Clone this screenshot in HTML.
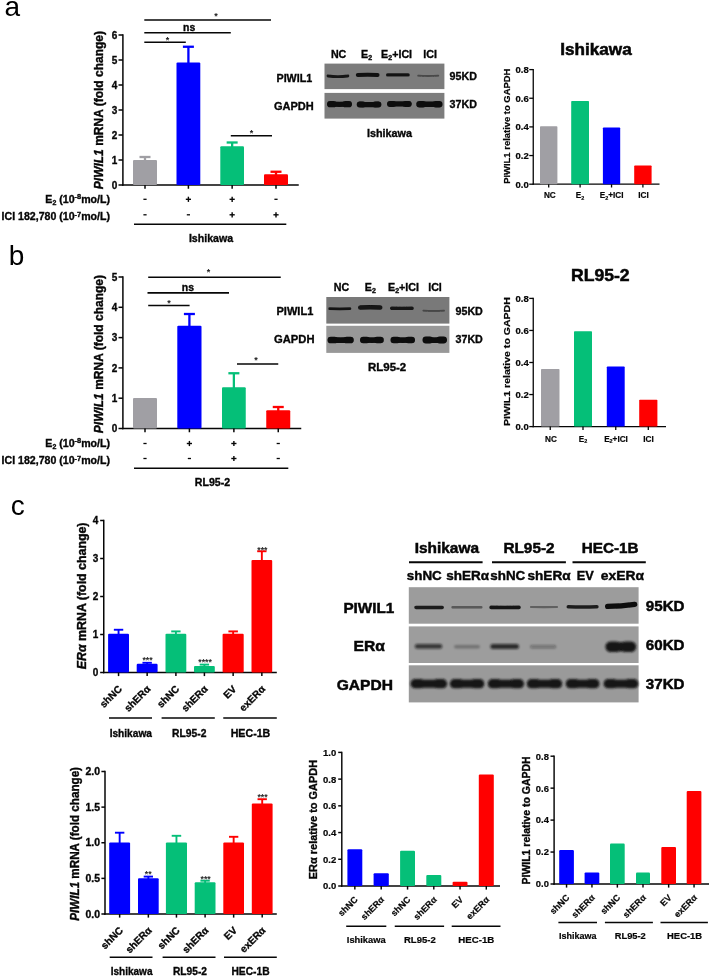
<!DOCTYPE html>
<html lang="en"><head><meta charset="utf-8"><title>Figure</title>
<style>
html,body{margin:0;padding:0;background:#fff;}
svg{display:block;font-family:"Liberation Sans", Arial, sans-serif;}
</style></head><body>
<svg width="709" height="976" viewBox="0 0 709 976">
<defs>
<filter id="b0" filterUnits="userSpaceOnUse" x="0" y="0" width="709" height="976"><feGaussianBlur stdDeviation="0.35"/></filter>
<filter id="b1" filterUnits="userSpaceOnUse" x="0" y="0" width="709" height="976"><feGaussianBlur stdDeviation="0.85"/></filter>
<filter id="b3" filterUnits="userSpaceOnUse" x="0" y="0" width="709" height="976"><feGaussianBlur stdDeviation="0.55"/></filter>
<filter id="b4" filterUnits="userSpaceOnUse" x="0" y="0" width="709" height="976"><feGaussianBlur stdDeviation="0.6"/></filter>
<filter id="b2" filterUnits="userSpaceOnUse" x="0" y="0" width="709" height="976"><feGaussianBlur stdDeviation="1.1"/></filter>
</defs>
<rect width="709" height="976" fill="#fff"/>
<text x="4.50" y="15.60" font-size="28" font-weight="normal" fill="#000">a</text>
<text x="8.85" y="265.40" font-size="28" font-weight="normal" fill="#000">b</text>
<text x="10.75" y="514.70" font-size="28" font-weight="normal" fill="#000">c</text>
<line x1="122.90" y1="34.25" x2="122.90" y2="185.75" stroke="#060606" stroke-width="1.5" stroke-linecap="butt"/>
<line x1="122.15" y1="185.00" x2="298.75" y2="185.00" stroke="#060606" stroke-width="1.5" stroke-linecap="butt"/>
<line x1="118.50" y1="185.00" x2="122.90" y2="185.00" stroke="#060606" stroke-width="1.5" stroke-linecap="butt"/>
<text x="117.30" y="188.60" font-size="10" font-weight="bold" fill="#060606" stroke="#060606" stroke-width="0.32" text-anchor="end">0</text>
<line x1="118.50" y1="160.00" x2="122.90" y2="160.00" stroke="#060606" stroke-width="1.5" stroke-linecap="butt"/>
<text x="117.30" y="163.60" font-size="10" font-weight="bold" fill="#060606" stroke="#060606" stroke-width="0.32" text-anchor="end">1</text>
<line x1="118.50" y1="135.00" x2="122.90" y2="135.00" stroke="#060606" stroke-width="1.5" stroke-linecap="butt"/>
<text x="117.30" y="138.60" font-size="10" font-weight="bold" fill="#060606" stroke="#060606" stroke-width="0.32" text-anchor="end">2</text>
<line x1="118.50" y1="110.00" x2="122.90" y2="110.00" stroke="#060606" stroke-width="1.5" stroke-linecap="butt"/>
<text x="117.30" y="113.60" font-size="10" font-weight="bold" fill="#060606" stroke="#060606" stroke-width="0.32" text-anchor="end">3</text>
<line x1="118.50" y1="85.00" x2="122.90" y2="85.00" stroke="#060606" stroke-width="1.5" stroke-linecap="butt"/>
<text x="117.30" y="88.60" font-size="10" font-weight="bold" fill="#060606" stroke="#060606" stroke-width="0.32" text-anchor="end">4</text>
<line x1="118.50" y1="60.00" x2="122.90" y2="60.00" stroke="#060606" stroke-width="1.5" stroke-linecap="butt"/>
<text x="117.30" y="63.60" font-size="10" font-weight="bold" fill="#060606" stroke="#060606" stroke-width="0.32" text-anchor="end">5</text>
<line x1="118.50" y1="35.00" x2="122.90" y2="35.00" stroke="#060606" stroke-width="1.5" stroke-linecap="butt"/>
<text x="117.30" y="38.60" font-size="10" font-weight="bold" fill="#060606" stroke="#060606" stroke-width="0.32" text-anchor="end">6</text>
<line x1="145.00" y1="157.00" x2="145.00" y2="161.00" stroke="#a09fa4" stroke-width="2.3" stroke-linecap="butt"/>
<line x1="139.50" y1="157.00" x2="150.50" y2="157.00" stroke="#a09fa4" stroke-width="2.3" stroke-linecap="butt"/>
<rect x="133.00" y="160.00" width="24.00" height="25.00" fill="#a09fa4" rx="1.1"/>
<line x1="145.00" y1="185.00" x2="145.00" y2="188.75" stroke="#060606" stroke-width="1.5" stroke-linecap="butt"/>
<line x1="188.40" y1="46.75" x2="188.40" y2="63.50" stroke="#0000ff" stroke-width="2.3" stroke-linecap="butt"/>
<line x1="182.90" y1="46.75" x2="193.90" y2="46.75" stroke="#0000ff" stroke-width="2.3" stroke-linecap="butt"/>
<rect x="176.50" y="62.50" width="23.80" height="122.50" fill="#0000ff" rx="1.1"/>
<line x1="188.40" y1="185.00" x2="188.40" y2="188.75" stroke="#060606" stroke-width="1.5" stroke-linecap="butt"/>
<line x1="232.15" y1="142.50" x2="232.15" y2="147.25" stroke="#05bf78" stroke-width="2.3" stroke-linecap="butt"/>
<line x1="226.65" y1="142.50" x2="237.65" y2="142.50" stroke="#05bf78" stroke-width="2.3" stroke-linecap="butt"/>
<rect x="220.30" y="146.25" width="23.70" height="38.75" fill="#05bf78" rx="1.1"/>
<line x1="232.15" y1="185.00" x2="232.15" y2="188.75" stroke="#060606" stroke-width="1.5" stroke-linecap="butt"/>
<line x1="276.00" y1="171.75" x2="276.00" y2="175.25" stroke="#ff0000" stroke-width="2.3" stroke-linecap="butt"/>
<line x1="270.50" y1="171.75" x2="281.50" y2="171.75" stroke="#ff0000" stroke-width="2.3" stroke-linecap="butt"/>
<rect x="264.00" y="174.25" width="24.00" height="10.75" fill="#ff0000" rx="1.1"/>
<line x1="276.00" y1="185.00" x2="276.00" y2="188.75" stroke="#060606" stroke-width="1.5" stroke-linecap="butt"/>
<line x1="144.30" y1="20.00" x2="271.00" y2="20.00" stroke="#060606" stroke-width="1.6" stroke-linecap="butt"/>
<text x="216.00" y="19.30" font-size="9" font-weight="700" fill="#1a1a1a" text-anchor="middle">*</text>
<line x1="144.30" y1="32.70" x2="230.80" y2="32.70" stroke="#060606" stroke-width="1.6" stroke-linecap="butt"/>
<text x="189.10" y="30.70" font-size="10.4" font-weight="bold" fill="#060606" stroke="#060606" stroke-width="0.33" text-anchor="middle" textLength="12.20" lengthAdjust="spacingAndGlyphs">ns</text>
<line x1="144.30" y1="42.30" x2="185.80" y2="42.30" stroke="#060606" stroke-width="1.6" stroke-linecap="butt"/>
<text x="167.60" y="43.00" font-size="9" font-weight="700" fill="#1a1a1a" text-anchor="middle">*</text>
<line x1="230.80" y1="135.75" x2="272.00" y2="135.75" stroke="#060606" stroke-width="1.6" stroke-linecap="butt"/>
<text x="251.50" y="136.00" font-size="9" font-weight="700" fill="#1a1a1a" text-anchor="middle">*</text>
<text x="103.30" y="189.20" font-size="12" font-weight="bold" fill="#060606" stroke="#060606" stroke-width="0.38" transform="rotate(-90 103.30 189.20)" textLength="158.20" lengthAdjust="spacingAndGlyphs"><tspan font-style="italic">PIWIL1</tspan> mRNA (fold change)</text>
<text x="110.00" y="202.50" font-size="10.6" font-weight="bold" fill="#060606" stroke="#060606" stroke-width="0.34" text-anchor="end">E<tspan font-size="66%" dy="2">2</tspan><tspan dy="-2"> (10</tspan><tspan font-size="70%" dy="-3.4">-8</tspan><tspan dy="3.4">mo/L)</tspan></text>
<text x="110.00" y="220.00" font-size="10.6" font-weight="bold" fill="#060606" stroke="#060606" stroke-width="0.34" text-anchor="end">ICI 182,780 (10<tspan font-size="70%" dy="-3.4">-7</tspan><tspan dy="3.4">mo/L)</tspan></text>
<line x1="143.40" y1="199.30" x2="146.60" y2="199.30" stroke="#060606" stroke-width="1.3" stroke-linecap="butt"/>
<line x1="185.80" y1="199.30" x2="191.00" y2="199.30" stroke="#060606" stroke-width="1.4" stroke-linecap="butt"/>
<line x1="188.40" y1="196.70" x2="188.40" y2="201.90" stroke="#060606" stroke-width="1.4" stroke-linecap="butt"/>
<line x1="229.55" y1="199.30" x2="234.75" y2="199.30" stroke="#060606" stroke-width="1.4" stroke-linecap="butt"/>
<line x1="232.15" y1="196.70" x2="232.15" y2="201.90" stroke="#060606" stroke-width="1.4" stroke-linecap="butt"/>
<line x1="274.40" y1="199.30" x2="277.60" y2="199.30" stroke="#060606" stroke-width="1.3" stroke-linecap="butt"/>
<line x1="143.40" y1="214.80" x2="146.60" y2="214.80" stroke="#060606" stroke-width="1.3" stroke-linecap="butt"/>
<line x1="186.80" y1="214.80" x2="190.00" y2="214.80" stroke="#060606" stroke-width="1.3" stroke-linecap="butt"/>
<line x1="229.55" y1="214.80" x2="234.75" y2="214.80" stroke="#060606" stroke-width="1.4" stroke-linecap="butt"/>
<line x1="232.15" y1="212.20" x2="232.15" y2="217.40" stroke="#060606" stroke-width="1.4" stroke-linecap="butt"/>
<line x1="273.40" y1="214.80" x2="278.60" y2="214.80" stroke="#060606" stroke-width="1.4" stroke-linecap="butt"/>
<line x1="276.00" y1="212.20" x2="276.00" y2="217.40" stroke="#060606" stroke-width="1.4" stroke-linecap="butt"/>
<line x1="134.00" y1="224.25" x2="286.30" y2="224.25" stroke="#060606" stroke-width="1.3" stroke-linecap="butt"/>
<text x="211.00" y="242.05" font-size="10.6" font-weight="bold" fill="#060606" stroke="#060606" stroke-width="0.34" text-anchor="middle">Ishikawa</text>
<line x1="122.90" y1="276.25" x2="122.90" y2="429.25" stroke="#060606" stroke-width="1.5" stroke-linecap="butt"/>
<line x1="122.15" y1="428.50" x2="301.25" y2="428.50" stroke="#060606" stroke-width="1.5" stroke-linecap="butt"/>
<line x1="118.50" y1="428.50" x2="122.90" y2="428.50" stroke="#060606" stroke-width="1.5" stroke-linecap="butt"/>
<text x="117.30" y="432.10" font-size="10" font-weight="bold" fill="#060606" stroke="#060606" stroke-width="0.32" text-anchor="end">0</text>
<line x1="118.50" y1="398.20" x2="122.90" y2="398.20" stroke="#060606" stroke-width="1.5" stroke-linecap="butt"/>
<text x="117.30" y="401.80" font-size="10" font-weight="bold" fill="#060606" stroke="#060606" stroke-width="0.32" text-anchor="end">1</text>
<line x1="118.50" y1="367.90" x2="122.90" y2="367.90" stroke="#060606" stroke-width="1.5" stroke-linecap="butt"/>
<text x="117.30" y="371.50" font-size="10" font-weight="bold" fill="#060606" stroke="#060606" stroke-width="0.32" text-anchor="end">2</text>
<line x1="118.50" y1="337.60" x2="122.90" y2="337.60" stroke="#060606" stroke-width="1.5" stroke-linecap="butt"/>
<text x="117.30" y="341.20" font-size="10" font-weight="bold" fill="#060606" stroke="#060606" stroke-width="0.32" text-anchor="end">3</text>
<line x1="118.50" y1="307.30" x2="122.90" y2="307.30" stroke="#060606" stroke-width="1.5" stroke-linecap="butt"/>
<text x="117.30" y="310.90" font-size="10" font-weight="bold" fill="#060606" stroke="#060606" stroke-width="0.32" text-anchor="end">4</text>
<line x1="118.50" y1="277.00" x2="122.90" y2="277.00" stroke="#060606" stroke-width="1.5" stroke-linecap="butt"/>
<text x="117.30" y="280.60" font-size="10" font-weight="bold" fill="#060606" stroke="#060606" stroke-width="0.32" text-anchor="end">5</text>
<rect x="133.00" y="397.90" width="24.00" height="30.60" fill="#a09fa4" rx="1.1"/>
<line x1="145.00" y1="428.50" x2="145.00" y2="432.25" stroke="#060606" stroke-width="1.5" stroke-linecap="butt"/>
<line x1="189.40" y1="314.00" x2="189.40" y2="326.75" stroke="#0000ff" stroke-width="2.3" stroke-linecap="butt"/>
<line x1="183.90" y1="314.00" x2="194.90" y2="314.00" stroke="#0000ff" stroke-width="2.3" stroke-linecap="butt"/>
<rect x="177.30" y="325.75" width="24.20" height="102.75" fill="#0000ff" rx="1.1"/>
<line x1="189.40" y1="428.50" x2="189.40" y2="432.25" stroke="#060606" stroke-width="1.5" stroke-linecap="butt"/>
<line x1="233.88" y1="373.25" x2="233.88" y2="388.25" stroke="#05bf78" stroke-width="2.3" stroke-linecap="butt"/>
<line x1="228.38" y1="373.25" x2="239.38" y2="373.25" stroke="#05bf78" stroke-width="2.3" stroke-linecap="butt"/>
<rect x="222.00" y="387.25" width="23.75" height="41.25" fill="#05bf78" rx="1.1"/>
<line x1="233.88" y1="428.50" x2="233.88" y2="432.25" stroke="#060606" stroke-width="1.5" stroke-linecap="butt"/>
<line x1="278.25" y1="407.00" x2="278.25" y2="411.25" stroke="#ff0000" stroke-width="2.3" stroke-linecap="butt"/>
<line x1="272.75" y1="407.00" x2="283.75" y2="407.00" stroke="#ff0000" stroke-width="2.3" stroke-linecap="butt"/>
<rect x="266.25" y="410.25" width="24.00" height="18.25" fill="#ff0000" rx="1.1"/>
<line x1="278.25" y1="428.50" x2="278.25" y2="432.25" stroke="#060606" stroke-width="1.5" stroke-linecap="butt"/>
<line x1="148.20" y1="277.25" x2="280.75" y2="277.25" stroke="#060606" stroke-width="1.6" stroke-linecap="butt"/>
<text x="208.40" y="274.60" font-size="9" font-weight="700" fill="#1a1a1a" text-anchor="middle">*</text>
<line x1="147.50" y1="292.90" x2="229.00" y2="292.90" stroke="#060606" stroke-width="1.6" stroke-linecap="butt"/>
<text x="187.90" y="291.00" font-size="10.4" font-weight="bold" fill="#060606" stroke="#060606" stroke-width="0.33" text-anchor="middle" textLength="12.20" lengthAdjust="spacingAndGlyphs">ns</text>
<line x1="148.20" y1="305.50" x2="189.60" y2="305.50" stroke="#060606" stroke-width="1.6" stroke-linecap="butt"/>
<text x="168.90" y="305.60" font-size="9" font-weight="700" fill="#1a1a1a" text-anchor="middle">*</text>
<line x1="237.00" y1="364.00" x2="278.25" y2="364.00" stroke="#060606" stroke-width="1.6" stroke-linecap="butt"/>
<text x="256.00" y="363.00" font-size="9" font-weight="700" fill="#1a1a1a" text-anchor="middle">*</text>
<text x="103.30" y="433.20" font-size="12" font-weight="bold" fill="#060606" stroke="#060606" stroke-width="0.38" transform="rotate(-90 103.30 433.20)" textLength="158.20" lengthAdjust="spacingAndGlyphs"><tspan font-style="italic">PIWIL1</tspan> mRNA (fold change)</text>
<text x="110.00" y="446.50" font-size="10.6" font-weight="bold" fill="#060606" stroke="#060606" stroke-width="0.34" text-anchor="end">E<tspan font-size="66%" dy="2">2</tspan><tspan dy="-2"> (10</tspan><tspan font-size="70%" dy="-3.4">-8</tspan><tspan dy="3.4">mo/L)</tspan></text>
<text x="110.00" y="464.00" font-size="10.6" font-weight="bold" fill="#060606" stroke="#060606" stroke-width="0.34" text-anchor="end">ICI 182,780 (10<tspan font-size="70%" dy="-3.4">-7</tspan><tspan dy="3.4">mo/L)</tspan></text>
<line x1="143.40" y1="443.50" x2="146.60" y2="443.50" stroke="#060606" stroke-width="1.3" stroke-linecap="butt"/>
<line x1="186.80" y1="443.50" x2="192.00" y2="443.50" stroke="#060606" stroke-width="1.4" stroke-linecap="butt"/>
<line x1="189.40" y1="440.90" x2="189.40" y2="446.10" stroke="#060606" stroke-width="1.4" stroke-linecap="butt"/>
<line x1="231.28" y1="443.50" x2="236.47" y2="443.50" stroke="#060606" stroke-width="1.4" stroke-linecap="butt"/>
<line x1="233.88" y1="440.90" x2="233.88" y2="446.10" stroke="#060606" stroke-width="1.4" stroke-linecap="butt"/>
<line x1="276.65" y1="443.50" x2="279.85" y2="443.50" stroke="#060606" stroke-width="1.3" stroke-linecap="butt"/>
<line x1="143.40" y1="458.50" x2="146.60" y2="458.50" stroke="#060606" stroke-width="1.3" stroke-linecap="butt"/>
<line x1="187.80" y1="458.50" x2="191.00" y2="458.50" stroke="#060606" stroke-width="1.3" stroke-linecap="butt"/>
<line x1="231.28" y1="458.50" x2="236.47" y2="458.50" stroke="#060606" stroke-width="1.4" stroke-linecap="butt"/>
<line x1="233.88" y1="455.90" x2="233.88" y2="461.10" stroke="#060606" stroke-width="1.4" stroke-linecap="butt"/>
<line x1="276.65" y1="458.50" x2="279.85" y2="458.50" stroke="#060606" stroke-width="1.3" stroke-linecap="butt"/>
<line x1="134.00" y1="468.25" x2="288.30" y2="468.25" stroke="#060606" stroke-width="1.3" stroke-linecap="butt"/>
<text x="212.50" y="486.05" font-size="10.6" font-weight="bold" fill="#060606" stroke="#060606" stroke-width="0.34" text-anchor="middle">RL95-2</text>
<rect x="324.50" y="63.60" width="119.90" height="25.50" fill="#7b7b7b" filter="url(#b0)"/>
<rect x="324.50" y="92.90" width="119.90" height="25.70" fill="#7d7d7d" filter="url(#b0)"/>
<g filter="url(#b3)"><path d="M328.00 76.00 Q337.95 77.20 347.90 76.00" stroke="#121212" stroke-width="2.80" stroke-linecap="round" fill="none" opacity="0.92"/><path d="M357.80 74.90 Q367.70 74.50 377.60 74.90" stroke="#121212" stroke-width="4.00" stroke-linecap="round" fill="none" opacity="0.97"/><path d="M387.60 74.90 Q397.90 74.70 408.20 74.90" stroke="#121212" stroke-width="3.20" stroke-linecap="round" fill="none" opacity="0.95"/><path d="M418.10 75.60 Q428.20 76.40 438.30 75.60" stroke="#121212" stroke-width="1.80" stroke-linecap="round" fill="none" opacity="0.5"/></g>
<g filter="url(#b4)"><path d="M330.10 104.20 Q339.50 104.40 348.90 104.20" stroke="#0b0b0b" stroke-width="5.33" stroke-linecap="round" fill="none" opacity="1"/><path d="M330.10 104.20 h3.41 M348.90 104.20 h-3.41" stroke="#0b0b0b" stroke-width="6.20" stroke-linecap="round" fill="none" opacity="1"/><path d="M359.70 104.40 Q369.05 104.80 378.40 104.40" stroke="#0b0b0b" stroke-width="5.16" stroke-linecap="round" fill="none" opacity="1"/><path d="M359.70 104.40 h3.30 M378.40 104.40 h-3.30" stroke="#0b0b0b" stroke-width="6.00" stroke-linecap="round" fill="none" opacity="1"/><path d="M390.00 103.90 Q399.35 103.70 408.70 103.90" stroke="#0b0b0b" stroke-width="5.16" stroke-linecap="round" fill="none" opacity="1"/><path d="M390.00 103.90 h3.30 M408.70 103.90 h-3.30" stroke="#0b0b0b" stroke-width="6.00" stroke-linecap="round" fill="none" opacity="1"/><path d="M419.50 104.20 Q429.40 104.40 439.30 104.20" stroke="#0b0b0b" stroke-width="5.50" stroke-linecap="round" fill="none" opacity="1"/><path d="M419.50 104.20 h3.52 M439.30 104.20 h-3.52" stroke="#0b0b0b" stroke-width="6.40" stroke-linecap="round" fill="none" opacity="1"/></g>
<text x="338.60" y="57.60" font-size="10.7" font-weight="bold" fill="#060606" stroke="#060606" stroke-width="0.34" text-anchor="middle">NC</text>
<text x="366.60" y="57.60" font-size="10.7" font-weight="bold" fill="#060606" stroke="#060606" stroke-width="0.34" text-anchor="middle">E<tspan font-size="66%" dy="2">2</tspan></text>
<text x="396.60" y="57.60" font-size="10.7" font-weight="bold" fill="#060606" stroke="#060606" stroke-width="0.34" text-anchor="middle">E<tspan font-size="66%" dy="2">2</tspan><tspan dy="-2">+ICI</tspan></text>
<text x="430.10" y="57.60" font-size="10.7" font-weight="bold" fill="#060606" stroke="#060606" stroke-width="0.34" text-anchor="middle">ICI</text>
<text x="312.20" y="82.00" font-size="10.7" font-weight="bold" fill="#060606" stroke="#060606" stroke-width="0.34" text-anchor="end" textLength="35.70" lengthAdjust="spacingAndGlyphs">PIWIL1</text>
<text x="313.80" y="109.50" font-size="10.7" font-weight="bold" fill="#060606" stroke="#060606" stroke-width="0.34" text-anchor="end" textLength="39.80" lengthAdjust="spacingAndGlyphs">GAPDH</text>
<text x="449.60" y="80.20" font-size="10.7" font-weight="bold" fill="#060606" stroke="#060606" stroke-width="0.34">95KD</text>
<text x="449.60" y="108.20" font-size="10.7" font-weight="bold" fill="#060606" stroke="#060606" stroke-width="0.34">37KD</text>
<text x="389.50" y="136.60" font-size="10.7" font-weight="bold" fill="#060606" stroke="#060606" stroke-width="0.34" text-anchor="middle" textLength="45.00" lengthAdjust="spacingAndGlyphs">Ishikawa</text>
<rect x="326.30" y="297.00" width="123.10" height="26.60" fill="#797979" filter="url(#b0)"/>
<rect x="326.30" y="325.80" width="123.10" height="27.10" fill="#989898" filter="url(#b0)"/>
<g filter="url(#b3)"><path d="M329.70 308.70 Q339.80 308.90 349.90 308.70" stroke="#121212" stroke-width="2.80" stroke-linecap="round" fill="none" opacity="0.95"/><path d="M360.30 307.50 Q370.25 306.90 380.20 307.50" stroke="#121212" stroke-width="4.60" stroke-linecap="round" fill="none" opacity="1"/><path d="M391.70 308.30 Q401.90 308.50 412.10 308.30" stroke="#121212" stroke-width="3.40" stroke-linecap="round" fill="none" opacity="1"/><path d="M423.40 310.60 Q433.75 311.20 444.10 310.60" stroke="#121212" stroke-width="1.80" stroke-linecap="round" fill="none" opacity="0.5"/></g>
<g filter="url(#b4)"><path d="M330.85 340.00 Q340.65 340.20 350.45 340.00" stroke="#0b0b0b" stroke-width="5.76" stroke-linecap="round" fill="none" opacity="1"/><path d="M330.85 340.00 h3.69 M350.45 340.00 h-3.69" stroke="#0b0b0b" stroke-width="6.70" stroke-linecap="round" fill="none" opacity="1"/><path d="M363.25 340.00 Q371.90 340.20 380.55 340.00" stroke="#0b0b0b" stroke-width="5.59" stroke-linecap="round" fill="none" opacity="1"/><path d="M363.25 340.00 h3.58 M380.55 340.00 h-3.58" stroke="#0b0b0b" stroke-width="6.50" stroke-linecap="round" fill="none" opacity="1"/><path d="M393.75 340.00 Q402.75 340.20 411.75 340.00" stroke="#0b0b0b" stroke-width="5.59" stroke-linecap="round" fill="none" opacity="1"/><path d="M393.75 340.00 h3.58 M411.75 340.00 h-3.58" stroke="#0b0b0b" stroke-width="6.50" stroke-linecap="round" fill="none" opacity="1"/><path d="M425.95 340.00 Q434.75 340.20 443.55 340.00" stroke="#0b0b0b" stroke-width="5.93" stroke-linecap="round" fill="none" opacity="1"/><path d="M425.95 340.00 h3.80 M443.55 340.00 h-3.80" stroke="#0b0b0b" stroke-width="6.90" stroke-linecap="round" fill="none" opacity="1"/></g>
<text x="341.50" y="291.30" font-size="10.7" font-weight="bold" fill="#060606" stroke="#060606" stroke-width="0.34" text-anchor="middle">NC</text>
<text x="370.40" y="291.30" font-size="10.7" font-weight="bold" fill="#060606" stroke="#060606" stroke-width="0.34" text-anchor="middle">E<tspan font-size="66%" dy="2">2</tspan></text>
<text x="403.50" y="291.30" font-size="10.7" font-weight="bold" fill="#060606" stroke="#060606" stroke-width="0.34" text-anchor="middle">E<tspan font-size="66%" dy="2">2</tspan><tspan dy="-2">+ICI</tspan></text>
<text x="435.00" y="291.30" font-size="10.7" font-weight="bold" fill="#060606" stroke="#060606" stroke-width="0.34" text-anchor="middle">ICI</text>
<text x="313.30" y="314.80" font-size="10.7" font-weight="bold" fill="#060606" stroke="#060606" stroke-width="0.34" text-anchor="end" textLength="36.80" lengthAdjust="spacingAndGlyphs">PIWIL1</text>
<text x="314.50" y="342.80" font-size="10.7" font-weight="bold" fill="#060606" stroke="#060606" stroke-width="0.34" text-anchor="end" textLength="40.50" lengthAdjust="spacingAndGlyphs">GAPDH</text>
<text x="455.50" y="314.50" font-size="10.7" font-weight="bold" fill="#060606" stroke="#060606" stroke-width="0.34">95KD</text>
<text x="455.50" y="342.50" font-size="10.7" font-weight="bold" fill="#060606" stroke="#060606" stroke-width="0.34">37KD</text>
<text x="387.10" y="371.20" font-size="10.7" font-weight="bold" fill="#060606" stroke="#060606" stroke-width="0.34" text-anchor="middle" textLength="38.20" lengthAdjust="spacingAndGlyphs">RL95-2</text>
<line x1="533.25" y1="69.00" x2="533.25" y2="184.80" stroke="#060606" stroke-width="1.3" stroke-linecap="butt"/>
<line x1="532.65" y1="184.20" x2="659.50" y2="184.20" stroke="#060606" stroke-width="1.3" stroke-linecap="butt"/>
<line x1="529.25" y1="184.20" x2="533.25" y2="184.20" stroke="#060606" stroke-width="1.3" stroke-linecap="butt"/>
<text x="528.80" y="187.50" font-size="9.5" font-weight="bold" fill="#060606" stroke="#060606" stroke-width="0.21" text-anchor="end">0.0</text>
<line x1="529.25" y1="155.55" x2="533.25" y2="155.55" stroke="#060606" stroke-width="1.3" stroke-linecap="butt"/>
<text x="528.80" y="158.85" font-size="9.5" font-weight="bold" fill="#060606" stroke="#060606" stroke-width="0.21" text-anchor="end">0.2</text>
<line x1="529.25" y1="126.90" x2="533.25" y2="126.90" stroke="#060606" stroke-width="1.3" stroke-linecap="butt"/>
<text x="528.80" y="130.20" font-size="9.5" font-weight="bold" fill="#060606" stroke="#060606" stroke-width="0.21" text-anchor="end">0.4</text>
<line x1="529.25" y1="98.25" x2="533.25" y2="98.25" stroke="#060606" stroke-width="1.3" stroke-linecap="butt"/>
<text x="528.80" y="101.55" font-size="9.5" font-weight="bold" fill="#060606" stroke="#060606" stroke-width="0.21" text-anchor="end">0.6</text>
<line x1="529.25" y1="69.60" x2="533.25" y2="69.60" stroke="#060606" stroke-width="1.3" stroke-linecap="butt"/>
<text x="528.80" y="72.90" font-size="9.5" font-weight="bold" fill="#060606" stroke="#060606" stroke-width="0.21" text-anchor="end">0.8</text>
<rect x="540.00" y="126.30" width="17.40" height="57.90" fill="#a09fa4" rx="0.8"/>
<line x1="548.70" y1="184.20" x2="548.70" y2="187.50" stroke="#060606" stroke-width="1.3" stroke-linecap="butt"/>
<rect x="571.20" y="101.00" width="17.80" height="83.20" fill="#05bf78" rx="0.8"/>
<line x1="580.10" y1="184.20" x2="580.10" y2="187.50" stroke="#060606" stroke-width="1.3" stroke-linecap="butt"/>
<rect x="602.90" y="127.40" width="17.30" height="56.80" fill="#0000ff" rx="0.8"/>
<line x1="611.55" y1="184.20" x2="611.55" y2="187.50" stroke="#060606" stroke-width="1.3" stroke-linecap="butt"/>
<rect x="634.20" y="165.40" width="17.40" height="18.80" fill="#ff0000" rx="0.8"/>
<line x1="642.90" y1="184.20" x2="642.90" y2="187.50" stroke="#060606" stroke-width="1.3" stroke-linecap="butt"/>
<text x="596.00" y="54.60" font-size="17" font-weight="bold" fill="#060606" stroke="#060606" stroke-width="0.54" text-anchor="middle" textLength="71.50" lengthAdjust="spacingAndGlyphs">Ishikawa</text>
<text x="549.80" y="198.30" font-size="8.2" font-weight="bold" fill="#060606" stroke="#060606" stroke-width="0.18" text-anchor="middle">NC</text>
<text x="580.00" y="198.30" font-size="8.2" font-weight="bold" fill="#060606" stroke="#060606" stroke-width="0.18" text-anchor="middle">E<tspan font-size="66%" dy="1.6">2</tspan></text>
<text x="611.60" y="198.30" font-size="8.2" font-weight="bold" fill="#060606" stroke="#060606" stroke-width="0.18" text-anchor="middle">E<tspan font-size="66%" dy="1.6">2</tspan><tspan dy="-1.6">+ICI</tspan></text>
<text x="643.50" y="198.30" font-size="8.2" font-weight="bold" fill="#060606" stroke="#060606" stroke-width="0.18" text-anchor="middle">ICI</text>
<text x="510.40" y="183.80" font-size="9.4" font-weight="bold" fill="#060606" stroke="#060606" stroke-width="0.21" transform="rotate(-90 510.40 183.80)" textLength="115.20" lengthAdjust="spacingAndGlyphs">PIWIL1 relative to GAPDH</text>
<line x1="533.25" y1="297.80" x2="533.25" y2="427.20" stroke="#060606" stroke-width="1.3" stroke-linecap="butt"/>
<line x1="532.65" y1="426.60" x2="666.00" y2="426.60" stroke="#060606" stroke-width="1.3" stroke-linecap="butt"/>
<line x1="529.25" y1="426.60" x2="533.25" y2="426.60" stroke="#060606" stroke-width="1.3" stroke-linecap="butt"/>
<text x="528.80" y="429.90" font-size="9.5" font-weight="bold" fill="#060606" stroke="#060606" stroke-width="0.21" text-anchor="end">0.0</text>
<line x1="529.25" y1="394.55" x2="533.25" y2="394.55" stroke="#060606" stroke-width="1.3" stroke-linecap="butt"/>
<text x="528.80" y="397.85" font-size="9.5" font-weight="bold" fill="#060606" stroke="#060606" stroke-width="0.21" text-anchor="end">0.2</text>
<line x1="529.25" y1="362.50" x2="533.25" y2="362.50" stroke="#060606" stroke-width="1.3" stroke-linecap="butt"/>
<text x="528.80" y="365.80" font-size="9.5" font-weight="bold" fill="#060606" stroke="#060606" stroke-width="0.21" text-anchor="end">0.4</text>
<line x1="529.25" y1="330.45" x2="533.25" y2="330.45" stroke="#060606" stroke-width="1.3" stroke-linecap="butt"/>
<text x="528.80" y="333.75" font-size="9.5" font-weight="bold" fill="#060606" stroke="#060606" stroke-width="0.21" text-anchor="end">0.6</text>
<line x1="529.25" y1="298.40" x2="533.25" y2="298.40" stroke="#060606" stroke-width="1.3" stroke-linecap="butt"/>
<text x="528.80" y="301.70" font-size="9.5" font-weight="bold" fill="#060606" stroke="#060606" stroke-width="0.21" text-anchor="end">0.8</text>
<rect x="541.00" y="368.90" width="18.50" height="57.70" fill="#a09fa4" rx="0.8"/>
<line x1="550.25" y1="426.60" x2="550.25" y2="429.90" stroke="#060606" stroke-width="1.3" stroke-linecap="butt"/>
<rect x="574.00" y="331.20" width="18.00" height="95.40" fill="#05bf78" rx="0.8"/>
<line x1="583.00" y1="426.60" x2="583.00" y2="429.90" stroke="#060606" stroke-width="1.3" stroke-linecap="butt"/>
<rect x="606.80" y="366.40" width="17.90" height="60.20" fill="#0000ff" rx="0.8"/>
<line x1="615.75" y1="426.60" x2="615.75" y2="429.90" stroke="#060606" stroke-width="1.3" stroke-linecap="butt"/>
<rect x="639.20" y="399.75" width="18.20" height="26.85" fill="#ff0000" rx="0.8"/>
<line x1="648.30" y1="426.60" x2="648.30" y2="429.90" stroke="#060606" stroke-width="1.3" stroke-linecap="butt"/>
<text x="600.30" y="281.30" font-size="17" font-weight="bold" fill="#060606" stroke="#060606" stroke-width="0.54" text-anchor="middle" textLength="58.60" lengthAdjust="spacingAndGlyphs">RL95-2</text>
<text x="551.00" y="441.80" font-size="8.2" font-weight="bold" fill="#060606" stroke="#060606" stroke-width="0.18" text-anchor="middle">NC</text>
<text x="583.00" y="441.80" font-size="8.2" font-weight="bold" fill="#060606" stroke="#060606" stroke-width="0.18" text-anchor="middle">E<tspan font-size="66%" dy="1.6">2</tspan></text>
<text x="616.00" y="441.80" font-size="8.2" font-weight="bold" fill="#060606" stroke="#060606" stroke-width="0.18" text-anchor="middle">E<tspan font-size="66%" dy="1.6">2</tspan><tspan dy="-1.6">+ICI</tspan></text>
<text x="648.50" y="441.80" font-size="8.2" font-weight="bold" fill="#060606" stroke="#060606" stroke-width="0.18" text-anchor="middle">ICI</text>
<text x="509.80" y="426.00" font-size="9.4" font-weight="bold" fill="#060606" stroke="#060606" stroke-width="0.21" transform="rotate(-90 509.80 426.00)" textLength="128.80" lengthAdjust="spacingAndGlyphs">PIWIL1 relative to GAPDH</text>
<line x1="103.75" y1="519.75" x2="103.75" y2="673.25" stroke="#060606" stroke-width="1.5" stroke-linecap="butt"/>
<line x1="103.00" y1="672.50" x2="276.80" y2="672.50" stroke="#060606" stroke-width="1.5" stroke-linecap="butt"/>
<line x1="100.15" y1="672.50" x2="103.75" y2="672.50" stroke="#060606" stroke-width="1.5" stroke-linecap="butt"/>
<text x="98.20" y="676.10" font-size="10" font-weight="bold" fill="#060606" stroke="#060606" stroke-width="0.32" text-anchor="end">0</text>
<line x1="100.15" y1="634.50" x2="103.75" y2="634.50" stroke="#060606" stroke-width="1.5" stroke-linecap="butt"/>
<text x="98.20" y="638.10" font-size="10" font-weight="bold" fill="#060606" stroke="#060606" stroke-width="0.32" text-anchor="end">1</text>
<line x1="100.15" y1="596.50" x2="103.75" y2="596.50" stroke="#060606" stroke-width="1.5" stroke-linecap="butt"/>
<text x="98.20" y="600.10" font-size="10" font-weight="bold" fill="#060606" stroke="#060606" stroke-width="0.32" text-anchor="end">2</text>
<line x1="100.15" y1="558.50" x2="103.75" y2="558.50" stroke="#060606" stroke-width="1.5" stroke-linecap="butt"/>
<text x="98.20" y="562.10" font-size="10" font-weight="bold" fill="#060606" stroke="#060606" stroke-width="0.32" text-anchor="end">3</text>
<line x1="100.15" y1="520.50" x2="103.75" y2="520.50" stroke="#060606" stroke-width="1.5" stroke-linecap="butt"/>
<text x="98.20" y="524.10" font-size="10" font-weight="bold" fill="#060606" stroke="#060606" stroke-width="0.32" text-anchor="end">4</text>
<line x1="118.55" y1="629.75" x2="118.55" y2="634.70" stroke="#0000ff" stroke-width="1.9" stroke-linecap="butt"/>
<line x1="113.85" y1="629.75" x2="123.25" y2="629.75" stroke="#0000ff" stroke-width="1.9" stroke-linecap="butt"/>
<rect x="108.10" y="633.70" width="20.90" height="38.80" fill="#0000ff" rx="1.1"/>
<line x1="118.55" y1="672.50" x2="118.55" y2="676.10" stroke="#060606" stroke-width="1.5" stroke-linecap="butt"/>
<text x="122.55" y="689.70" font-size="10.1" font-weight="bold" fill="#060606" stroke="#060606" stroke-width="0.32" text-anchor="end" transform="rotate(-45 122.55 689.70)">shNC</text>
<line x1="147.15" y1="662.80" x2="147.15" y2="664.80" stroke="#0000ff" stroke-width="1.9" stroke-linecap="butt"/>
<line x1="142.45" y1="662.80" x2="151.85" y2="662.80" stroke="#0000ff" stroke-width="1.9" stroke-linecap="butt"/>
<rect x="136.70" y="663.80" width="20.90" height="8.70" fill="#0000ff" rx="1.1"/>
<line x1="147.15" y1="672.50" x2="147.15" y2="676.10" stroke="#060606" stroke-width="1.5" stroke-linecap="butt"/>
<text x="151.15" y="689.70" font-size="10.1" font-weight="bold" fill="#060606" stroke="#060606" stroke-width="0.32" text-anchor="end" transform="rotate(-45 151.15 689.70)">shERα</text>
<line x1="175.90" y1="631.40" x2="175.90" y2="634.70" stroke="#05bf78" stroke-width="1.9" stroke-linecap="butt"/>
<line x1="171.22" y1="631.40" x2="180.58" y2="631.40" stroke="#05bf78" stroke-width="1.9" stroke-linecap="butt"/>
<rect x="165.50" y="633.70" width="20.80" height="38.80" fill="#05bf78" rx="1.1"/>
<line x1="175.90" y1="672.50" x2="175.90" y2="676.10" stroke="#060606" stroke-width="1.5" stroke-linecap="butt"/>
<text x="179.90" y="689.70" font-size="10.1" font-weight="bold" fill="#060606" stroke="#060606" stroke-width="0.32" text-anchor="end" transform="rotate(-45 179.90 689.70)">shNC</text>
<line x1="204.40" y1="664.60" x2="204.40" y2="667.00" stroke="#05bf78" stroke-width="1.9" stroke-linecap="butt"/>
<line x1="199.72" y1="664.60" x2="209.08" y2="664.60" stroke="#05bf78" stroke-width="1.9" stroke-linecap="butt"/>
<rect x="194.00" y="666.00" width="20.80" height="6.50" fill="#05bf78" rx="1.1"/>
<line x1="204.40" y1="672.50" x2="204.40" y2="676.10" stroke="#060606" stroke-width="1.5" stroke-linecap="butt"/>
<text x="208.40" y="689.70" font-size="10.1" font-weight="bold" fill="#060606" stroke="#060606" stroke-width="0.32" text-anchor="end" transform="rotate(-45 208.40 689.70)">shERα</text>
<line x1="233.15" y1="631.40" x2="233.15" y2="634.70" stroke="#ff0000" stroke-width="1.9" stroke-linecap="butt"/>
<line x1="228.40" y1="631.40" x2="237.90" y2="631.40" stroke="#ff0000" stroke-width="1.9" stroke-linecap="butt"/>
<rect x="222.60" y="633.70" width="21.10" height="38.80" fill="#ff0000" rx="1.1"/>
<line x1="233.15" y1="672.50" x2="233.15" y2="676.10" stroke="#060606" stroke-width="1.5" stroke-linecap="butt"/>
<text x="237.15" y="689.70" font-size="10.1" font-weight="bold" fill="#060606" stroke="#060606" stroke-width="0.32" text-anchor="end" transform="rotate(-45 237.15 689.70)">EV</text>
<line x1="261.85" y1="551.25" x2="261.85" y2="561.00" stroke="#ff0000" stroke-width="1.9" stroke-linecap="butt"/>
<line x1="257.19" y1="551.25" x2="266.51" y2="551.25" stroke="#ff0000" stroke-width="1.9" stroke-linecap="butt"/>
<rect x="251.50" y="560.00" width="20.70" height="112.50" fill="#ff0000" rx="1.1"/>
<line x1="261.85" y1="672.50" x2="261.85" y2="676.10" stroke="#060606" stroke-width="1.5" stroke-linecap="butt"/>
<text x="265.85" y="689.70" font-size="10.1" font-weight="bold" fill="#060606" stroke="#060606" stroke-width="0.32" text-anchor="end" transform="rotate(-45 265.85 689.70)">exERα</text>
<line x1="109.00" y1="718.00" x2="152.00" y2="718.00" stroke="#060606" stroke-width="1.5" stroke-linecap="butt"/>
<text x="130.80" y="736.80" font-size="10.1" font-weight="bold" fill="#060606" stroke="#060606" stroke-width="0.32" text-anchor="middle" textLength="42.30" lengthAdjust="spacingAndGlyphs">Ishikawa</text>
<line x1="161.60" y1="718.00" x2="214.80" y2="718.00" stroke="#060606" stroke-width="1.5" stroke-linecap="butt"/>
<text x="189.20" y="736.80" font-size="10.1" font-weight="bold" fill="#060606" stroke="#060606" stroke-width="0.32" text-anchor="middle" textLength="34.40" lengthAdjust="spacingAndGlyphs">RL95-2</text>
<line x1="223.25" y1="718.00" x2="276.80" y2="718.00" stroke="#060606" stroke-width="1.5" stroke-linecap="butt"/>
<text x="250.50" y="736.80" font-size="10.1" font-weight="bold" fill="#060606" stroke="#060606" stroke-width="0.32" text-anchor="middle" textLength="39.60" lengthAdjust="spacingAndGlyphs">HEC-1B</text>
<text x="86.40" y="669.25" font-size="12" font-weight="bold" fill="#060606" stroke="#060606" stroke-width="0.38" transform="rotate(-90 86.40 669.25)" textLength="146.75" lengthAdjust="spacingAndGlyphs"><tspan font-style="italic">ERα</tspan> mRNA (fold change)</text>
<text x="147.50" y="663.40" font-size="8.7" font-weight="700" fill="#2a2a2a" text-anchor="middle">***</text>
<text x="205.10" y="664.60" font-size="8.7" font-weight="700" fill="#2a2a2a" text-anchor="middle">****</text>
<text x="262.40" y="553.10" font-size="8.7" font-weight="700" fill="#2a2a2a" text-anchor="middle">***</text>
<line x1="105.00" y1="770.75" x2="105.00" y2="914.75" stroke="#060606" stroke-width="1.5" stroke-linecap="butt"/>
<line x1="104.25" y1="914.00" x2="276.80" y2="914.00" stroke="#060606" stroke-width="1.5" stroke-linecap="butt"/>
<line x1="101.40" y1="914.00" x2="105.00" y2="914.00" stroke="#060606" stroke-width="1.5" stroke-linecap="butt"/>
<text x="100.00" y="917.60" font-size="10" font-weight="bold" fill="#060606" stroke="#060606" stroke-width="0.32" text-anchor="end" textLength="14.50" lengthAdjust="spacingAndGlyphs">0.0</text>
<line x1="101.40" y1="878.38" x2="105.00" y2="878.38" stroke="#060606" stroke-width="1.5" stroke-linecap="butt"/>
<text x="100.00" y="881.98" font-size="10" font-weight="bold" fill="#060606" stroke="#060606" stroke-width="0.32" text-anchor="end" textLength="14.50" lengthAdjust="spacingAndGlyphs">0.5</text>
<line x1="101.40" y1="842.75" x2="105.00" y2="842.75" stroke="#060606" stroke-width="1.5" stroke-linecap="butt"/>
<text x="100.00" y="846.35" font-size="10" font-weight="bold" fill="#060606" stroke="#060606" stroke-width="0.32" text-anchor="end" textLength="14.50" lengthAdjust="spacingAndGlyphs">1.0</text>
<line x1="101.40" y1="807.12" x2="105.00" y2="807.12" stroke="#060606" stroke-width="1.5" stroke-linecap="butt"/>
<text x="100.00" y="810.73" font-size="10" font-weight="bold" fill="#060606" stroke="#060606" stroke-width="0.32" text-anchor="end" textLength="14.50" lengthAdjust="spacingAndGlyphs">1.5</text>
<line x1="101.40" y1="771.50" x2="105.00" y2="771.50" stroke="#060606" stroke-width="1.5" stroke-linecap="butt"/>
<text x="100.00" y="775.10" font-size="10" font-weight="bold" fill="#060606" stroke="#060606" stroke-width="0.32" text-anchor="end" textLength="14.50" lengthAdjust="spacingAndGlyphs">2.0</text>
<line x1="119.65" y1="832.70" x2="119.65" y2="843.40" stroke="#0000ff" stroke-width="1.9" stroke-linecap="butt"/>
<line x1="114.95" y1="832.70" x2="124.35" y2="832.70" stroke="#0000ff" stroke-width="1.9" stroke-linecap="butt"/>
<rect x="109.20" y="842.40" width="20.90" height="71.60" fill="#0000ff" rx="1.1"/>
<line x1="119.65" y1="914.00" x2="119.65" y2="917.60" stroke="#060606" stroke-width="1.5" stroke-linecap="butt"/>
<text x="123.65" y="931.00" font-size="10.1" font-weight="bold" fill="#060606" stroke="#060606" stroke-width="0.32" text-anchor="end" transform="rotate(-45 123.65 931.00)">shNC</text>
<line x1="148.35" y1="876.60" x2="148.35" y2="879.20" stroke="#0000ff" stroke-width="1.9" stroke-linecap="butt"/>
<line x1="143.69" y1="876.60" x2="153.01" y2="876.60" stroke="#0000ff" stroke-width="1.9" stroke-linecap="butt"/>
<rect x="138.00" y="878.20" width="20.70" height="35.80" fill="#0000ff" rx="1.1"/>
<line x1="148.35" y1="914.00" x2="148.35" y2="917.60" stroke="#060606" stroke-width="1.5" stroke-linecap="butt"/>
<text x="152.35" y="931.00" font-size="10.1" font-weight="bold" fill="#060606" stroke="#060606" stroke-width="0.32" text-anchor="end" transform="rotate(-45 152.35 931.00)">shERα</text>
<line x1="176.45" y1="835.80" x2="176.45" y2="843.40" stroke="#05bf78" stroke-width="1.9" stroke-linecap="butt"/>
<line x1="171.70" y1="835.80" x2="181.20" y2="835.80" stroke="#05bf78" stroke-width="1.9" stroke-linecap="butt"/>
<rect x="165.90" y="842.40" width="21.10" height="71.60" fill="#05bf78" rx="1.1"/>
<line x1="176.45" y1="914.00" x2="176.45" y2="917.60" stroke="#060606" stroke-width="1.5" stroke-linecap="butt"/>
<text x="180.45" y="931.00" font-size="10.1" font-weight="bold" fill="#060606" stroke="#060606" stroke-width="0.32" text-anchor="end" transform="rotate(-45 180.45 931.00)">shNC</text>
<line x1="205.10" y1="880.70" x2="205.10" y2="883.20" stroke="#05bf78" stroke-width="1.9" stroke-linecap="butt"/>
<line x1="200.42" y1="880.70" x2="209.78" y2="880.70" stroke="#05bf78" stroke-width="1.9" stroke-linecap="butt"/>
<rect x="194.70" y="882.20" width="20.80" height="31.80" fill="#05bf78" rx="1.1"/>
<line x1="205.10" y1="914.00" x2="205.10" y2="917.60" stroke="#060606" stroke-width="1.5" stroke-linecap="butt"/>
<text x="209.10" y="931.00" font-size="10.1" font-weight="bold" fill="#060606" stroke="#060606" stroke-width="0.32" text-anchor="end" transform="rotate(-45 209.10 931.00)">shERα</text>
<line x1="233.65" y1="836.80" x2="233.65" y2="843.40" stroke="#ff0000" stroke-width="1.9" stroke-linecap="butt"/>
<line x1="228.99" y1="836.80" x2="238.31" y2="836.80" stroke="#ff0000" stroke-width="1.9" stroke-linecap="butt"/>
<rect x="223.30" y="842.40" width="20.70" height="71.60" fill="#ff0000" rx="1.1"/>
<line x1="233.65" y1="914.00" x2="233.65" y2="917.60" stroke="#060606" stroke-width="1.5" stroke-linecap="butt"/>
<text x="237.65" y="931.00" font-size="10.1" font-weight="bold" fill="#060606" stroke="#060606" stroke-width="0.32" text-anchor="end" transform="rotate(-45 237.65 931.00)">EV</text>
<line x1="262.20" y1="799.20" x2="262.20" y2="804.50" stroke="#ff0000" stroke-width="1.9" stroke-linecap="butt"/>
<line x1="257.52" y1="799.20" x2="266.88" y2="799.20" stroke="#ff0000" stroke-width="1.9" stroke-linecap="butt"/>
<rect x="251.80" y="803.50" width="20.80" height="110.50" fill="#ff0000" rx="1.1"/>
<line x1="262.20" y1="914.00" x2="262.20" y2="917.60" stroke="#060606" stroke-width="1.5" stroke-linecap="butt"/>
<text x="266.20" y="931.00" font-size="10.1" font-weight="bold" fill="#060606" stroke="#060606" stroke-width="0.32" text-anchor="end" transform="rotate(-45 266.20 931.00)">exERα</text>
<line x1="109.70" y1="957.30" x2="152.50" y2="957.30" stroke="#060606" stroke-width="1.5" stroke-linecap="butt"/>
<text x="131.60" y="974.60" font-size="10.1" font-weight="bold" fill="#060606" stroke="#060606" stroke-width="0.32" text-anchor="middle" textLength="41.80" lengthAdjust="spacingAndGlyphs">Ishikawa</text>
<line x1="162.60" y1="957.30" x2="215.50" y2="957.30" stroke="#060606" stroke-width="1.5" stroke-linecap="butt"/>
<text x="190.00" y="974.60" font-size="10.1" font-weight="bold" fill="#060606" stroke="#060606" stroke-width="0.32" text-anchor="middle" textLength="34.00" lengthAdjust="spacingAndGlyphs">RL95-2</text>
<line x1="224.00" y1="957.30" x2="276.80" y2="957.30" stroke="#060606" stroke-width="1.5" stroke-linecap="butt"/>
<text x="250.50" y="974.60" font-size="10.1" font-weight="bold" fill="#060606" stroke="#060606" stroke-width="0.32" text-anchor="middle" textLength="38.20" lengthAdjust="spacingAndGlyphs">HEC-1B</text>
<text x="79.00" y="920.75" font-size="12" font-weight="bold" fill="#060606" stroke="#060606" stroke-width="0.38" transform="rotate(-90 79.00 920.75)" textLength="153.75" lengthAdjust="spacingAndGlyphs"><tspan font-style="italic">PIWIL1</tspan> mRNA (fold change)</text>
<text x="148.20" y="877.00" font-size="8.7" font-weight="700" fill="#2a2a2a" text-anchor="middle">**</text>
<text x="205.70" y="881.70" font-size="8.7" font-weight="700" fill="#2a2a2a" text-anchor="middle">***</text>
<text x="262.50" y="800.30" font-size="8.7" font-weight="700" fill="#2a2a2a" text-anchor="middle">***</text>
<line x1="341.80" y1="751.67" x2="341.80" y2="886.73" stroke="#060606" stroke-width="1.45" stroke-linecap="butt"/>
<line x1="341.07" y1="886.00" x2="500.00" y2="886.00" stroke="#060606" stroke-width="1.45" stroke-linecap="butt"/>
<line x1="338.20" y1="886.00" x2="341.80" y2="886.00" stroke="#060606" stroke-width="1.45" stroke-linecap="butt"/>
<text x="336.30" y="889.42" font-size="9.5" font-weight="bold" fill="#060606" stroke="#060606" stroke-width="0.21" text-anchor="end">0.0</text>
<line x1="338.20" y1="859.28" x2="341.80" y2="859.28" stroke="#060606" stroke-width="1.45" stroke-linecap="butt"/>
<text x="336.30" y="862.70" font-size="9.5" font-weight="bold" fill="#060606" stroke="#060606" stroke-width="0.21" text-anchor="end">0.2</text>
<line x1="338.20" y1="832.56" x2="341.80" y2="832.56" stroke="#060606" stroke-width="1.45" stroke-linecap="butt"/>
<text x="336.30" y="835.98" font-size="9.5" font-weight="bold" fill="#060606" stroke="#060606" stroke-width="0.21" text-anchor="end">0.4</text>
<line x1="338.20" y1="805.84" x2="341.80" y2="805.84" stroke="#060606" stroke-width="1.45" stroke-linecap="butt"/>
<text x="336.30" y="809.26" font-size="9.5" font-weight="bold" fill="#060606" stroke="#060606" stroke-width="0.21" text-anchor="end">0.6</text>
<line x1="338.20" y1="779.12" x2="341.80" y2="779.12" stroke="#060606" stroke-width="1.45" stroke-linecap="butt"/>
<text x="336.30" y="782.54" font-size="9.5" font-weight="bold" fill="#060606" stroke="#060606" stroke-width="0.21" text-anchor="end">0.8</text>
<line x1="338.20" y1="752.40" x2="341.80" y2="752.40" stroke="#060606" stroke-width="1.45" stroke-linecap="butt"/>
<text x="336.30" y="755.82" font-size="9.5" font-weight="bold" fill="#060606" stroke="#060606" stroke-width="0.21" text-anchor="end">1.0</text>
<rect x="347.40" y="849.20" width="14.90" height="36.80" fill="#0000ff" rx="1.1"/>
<line x1="354.85" y1="886.00" x2="354.85" y2="889.60" stroke="#060606" stroke-width="1.45" stroke-linecap="butt"/>
<text x="358.45" y="900.20" font-size="9.0" font-weight="bold" fill="#060606" stroke="#060606" stroke-width="0.20" text-anchor="end" transform="rotate(-45 358.45 900.20)">shNC</text>
<rect x="373.60" y="873.20" width="15.20" height="12.80" fill="#0000ff" rx="1.1"/>
<line x1="381.20" y1="886.00" x2="381.20" y2="889.60" stroke="#060606" stroke-width="1.45" stroke-linecap="butt"/>
<text x="384.80" y="900.20" font-size="9.0" font-weight="bold" fill="#060606" stroke="#060606" stroke-width="0.20" text-anchor="end" transform="rotate(-45 384.80 900.20)">shERα</text>
<rect x="400.10" y="850.70" width="14.90" height="35.30" fill="#05bf78" rx="1.1"/>
<line x1="407.55" y1="886.00" x2="407.55" y2="889.60" stroke="#060606" stroke-width="1.45" stroke-linecap="butt"/>
<text x="411.15" y="900.20" font-size="9.0" font-weight="bold" fill="#060606" stroke="#060606" stroke-width="0.20" text-anchor="end" transform="rotate(-45 411.15 900.20)">shNC</text>
<rect x="426.30" y="874.90" width="15.00" height="11.10" fill="#05bf78" rx="1.1"/>
<line x1="433.80" y1="886.00" x2="433.80" y2="889.60" stroke="#060606" stroke-width="1.45" stroke-linecap="butt"/>
<text x="437.40" y="900.20" font-size="9.0" font-weight="bold" fill="#060606" stroke="#060606" stroke-width="0.20" text-anchor="end" transform="rotate(-45 437.40 900.20)">shERα</text>
<rect x="452.60" y="881.70" width="14.90" height="4.30" fill="#ff0000" rx="1.1"/>
<line x1="460.05" y1="886.00" x2="460.05" y2="889.60" stroke="#060606" stroke-width="1.45" stroke-linecap="butt"/>
<text x="463.65" y="900.20" font-size="9.0" font-weight="bold" fill="#060606" stroke="#060606" stroke-width="0.20" text-anchor="end" transform="rotate(-45 463.65 900.20)">EV</text>
<rect x="478.80" y="774.50" width="15.00" height="111.50" fill="#ff0000" rx="1.1"/>
<line x1="486.30" y1="886.00" x2="486.30" y2="889.60" stroke="#060606" stroke-width="1.45" stroke-linecap="butt"/>
<text x="489.90" y="900.20" font-size="9.0" font-weight="bold" fill="#060606" stroke="#060606" stroke-width="0.20" text-anchor="end" transform="rotate(-45 489.90 900.20)">exERα</text>
<line x1="346.20" y1="926.30" x2="386.30" y2="926.30" stroke="#060606" stroke-width="1.5" stroke-linecap="butt"/>
<text x="366.25" y="943.00" font-size="9.3" font-weight="bold" fill="#060606" stroke="#060606" stroke-width="0.20" text-anchor="middle" textLength="38.90" lengthAdjust="spacingAndGlyphs">Ishikawa</text>
<line x1="394.75" y1="926.30" x2="444.10" y2="926.30" stroke="#060606" stroke-width="1.5" stroke-linecap="butt"/>
<text x="419.85" y="943.00" font-size="9.3" font-weight="bold" fill="#060606" stroke="#060606" stroke-width="0.20" text-anchor="middle" textLength="31.70" lengthAdjust="spacingAndGlyphs">RL95-2</text>
<line x1="451.70" y1="926.30" x2="500.50" y2="926.30" stroke="#060606" stroke-width="1.5" stroke-linecap="butt"/>
<text x="476.25" y="943.00" font-size="9.3" font-weight="bold" fill="#060606" stroke="#060606" stroke-width="0.20" text-anchor="middle" textLength="36.10" lengthAdjust="spacingAndGlyphs">HEC-1B</text>
<text x="316.60" y="879.20" font-size="11" font-weight="bold" fill="#060606" stroke="#060606" stroke-width="0.35" transform="rotate(-90 316.60 879.20)" textLength="119.30" lengthAdjust="spacingAndGlyphs">ERα relative to GAPDH</text>
<line x1="554.10" y1="755.48" x2="554.10" y2="884.73" stroke="#060606" stroke-width="1.45" stroke-linecap="butt"/>
<line x1="553.38" y1="884.00" x2="709.00" y2="884.00" stroke="#060606" stroke-width="1.45" stroke-linecap="butt"/>
<line x1="550.50" y1="884.00" x2="554.10" y2="884.00" stroke="#060606" stroke-width="1.45" stroke-linecap="butt"/>
<text x="548.90" y="887.38" font-size="9.4" font-weight="bold" fill="#060606" stroke="#060606" stroke-width="0.21" text-anchor="end">0.0</text>
<line x1="550.50" y1="852.05" x2="554.10" y2="852.05" stroke="#060606" stroke-width="1.45" stroke-linecap="butt"/>
<text x="548.90" y="855.43" font-size="9.4" font-weight="bold" fill="#060606" stroke="#060606" stroke-width="0.21" text-anchor="end">0.2</text>
<line x1="550.50" y1="820.10" x2="554.10" y2="820.10" stroke="#060606" stroke-width="1.45" stroke-linecap="butt"/>
<text x="548.90" y="823.48" font-size="9.4" font-weight="bold" fill="#060606" stroke="#060606" stroke-width="0.21" text-anchor="end">0.4</text>
<line x1="550.50" y1="788.15" x2="554.10" y2="788.15" stroke="#060606" stroke-width="1.45" stroke-linecap="butt"/>
<text x="548.90" y="791.53" font-size="9.4" font-weight="bold" fill="#060606" stroke="#060606" stroke-width="0.21" text-anchor="end">0.6</text>
<line x1="550.50" y1="756.20" x2="554.10" y2="756.20" stroke="#060606" stroke-width="1.45" stroke-linecap="butt"/>
<text x="548.90" y="759.58" font-size="9.4" font-weight="bold" fill="#060606" stroke="#060606" stroke-width="0.21" text-anchor="end">0.8</text>
<rect x="559.20" y="850.10" width="14.70" height="33.90" fill="#0000ff" rx="1.1"/>
<line x1="566.55" y1="884.00" x2="566.55" y2="887.60" stroke="#060606" stroke-width="1.45" stroke-linecap="butt"/>
<text x="570.15" y="898.20" font-size="9.0" font-weight="bold" fill="#060606" stroke="#060606" stroke-width="0.20" text-anchor="end" transform="rotate(-45 570.15 898.20)">shNC</text>
<rect x="584.60" y="872.40" width="14.70" height="11.60" fill="#0000ff" rx="1.1"/>
<line x1="591.95" y1="884.00" x2="591.95" y2="887.60" stroke="#060606" stroke-width="1.45" stroke-linecap="butt"/>
<text x="595.55" y="898.20" font-size="9.0" font-weight="bold" fill="#060606" stroke="#060606" stroke-width="0.20" text-anchor="end" transform="rotate(-45 595.55 898.20)">shERα</text>
<rect x="610.00" y="843.60" width="14.70" height="40.40" fill="#05bf78" rx="1.1"/>
<line x1="617.35" y1="884.00" x2="617.35" y2="887.60" stroke="#060606" stroke-width="1.45" stroke-linecap="butt"/>
<text x="620.95" y="898.20" font-size="9.0" font-weight="bold" fill="#060606" stroke="#060606" stroke-width="0.20" text-anchor="end" transform="rotate(-45 620.95 898.20)">shNC</text>
<rect x="636.00" y="872.40" width="14.00" height="11.60" fill="#05bf78" rx="1.1"/>
<line x1="643.00" y1="884.00" x2="643.00" y2="887.60" stroke="#060606" stroke-width="1.45" stroke-linecap="butt"/>
<text x="646.60" y="898.20" font-size="9.0" font-weight="bold" fill="#060606" stroke="#060606" stroke-width="0.20" text-anchor="end" transform="rotate(-45 646.60 898.20)">shERα</text>
<rect x="661.30" y="847.00" width="14.70" height="37.00" fill="#ff0000" rx="1.1"/>
<line x1="668.65" y1="884.00" x2="668.65" y2="887.60" stroke="#060606" stroke-width="1.45" stroke-linecap="butt"/>
<text x="672.25" y="898.20" font-size="9.0" font-weight="bold" fill="#060606" stroke="#060606" stroke-width="0.20" text-anchor="end" transform="rotate(-45 672.25 898.20)">EV</text>
<rect x="686.70" y="790.90" width="14.70" height="93.10" fill="#ff0000" rx="1.1"/>
<line x1="694.05" y1="884.00" x2="694.05" y2="887.60" stroke="#060606" stroke-width="1.45" stroke-linecap="butt"/>
<text x="697.65" y="898.20" font-size="9.0" font-weight="bold" fill="#060606" stroke="#060606" stroke-width="0.20" text-anchor="end" transform="rotate(-45 697.65 898.20)">exERα</text>
<line x1="558.40" y1="922.60" x2="597.00" y2="922.60" stroke="#060606" stroke-width="1.5" stroke-linecap="butt"/>
<text x="577.65" y="938.70" font-size="9.0" font-weight="bold" fill="#060606" stroke="#060606" stroke-width="0.20" text-anchor="middle" textLength="37.50" lengthAdjust="spacingAndGlyphs">Ishikawa</text>
<line x1="604.90" y1="922.60" x2="652.90" y2="922.60" stroke="#060606" stroke-width="1.5" stroke-linecap="butt"/>
<text x="630.30" y="938.70" font-size="9.0" font-weight="bold" fill="#060606" stroke="#060606" stroke-width="0.20" text-anchor="middle" textLength="31.00" lengthAdjust="spacingAndGlyphs">RL95-2</text>
<line x1="660.50" y1="922.60" x2="707.90" y2="922.60" stroke="#060606" stroke-width="1.5" stroke-linecap="butt"/>
<text x="684.60" y="938.70" font-size="9.0" font-weight="bold" fill="#060606" stroke="#060606" stroke-width="0.20" text-anchor="middle" textLength="35.20" lengthAdjust="spacingAndGlyphs">HEC-1B</text>
<text x="530.40" y="884.50" font-size="10.8" font-weight="bold" fill="#060606" stroke="#060606" stroke-width="0.35" transform="rotate(-90 530.40 884.50)" textLength="128.10" lengthAdjust="spacingAndGlyphs">PIWIL1 relative to GAPDH</text>
<rect x="408.80" y="587.20" width="229.80" height="36.50" fill="#9c9c9c" filter="url(#b0)"/>
<rect x="408.80" y="626.40" width="229.80" height="36.60" fill="#9d9d9d" filter="url(#b0)"/>
<rect x="408.80" y="665.30" width="229.80" height="37.10" fill="#9a9a9a" filter="url(#b0)"/>
<g filter="url(#b3)"><path d="M415.95 607.40 Q429.10 607.60 442.25 607.40" stroke="#121212" stroke-width="3.50" stroke-linecap="round" fill="none" opacity="0.9"/><path d="M452.60 607.20 Q466.95 607.40 481.30 607.20" stroke="#121212" stroke-width="2.40" stroke-linecap="round" fill="none" opacity="0.5"/><path d="M491.15 607.40 Q505.05 607.60 518.95 607.40" stroke="#121212" stroke-width="3.70" stroke-linecap="round" fill="none" opacity="0.95"/><path d="M531.10 607.00 Q544.00 607.20 556.90 607.00" stroke="#121212" stroke-width="2.20" stroke-linecap="round" fill="none" opacity="0.45"/><path d="M568.25 606.80 Q582.60 607.20 596.95 606.80" stroke="#121212" stroke-width="3.50" stroke-linecap="round" fill="none" opacity="0.9"/><path d="M607.6 606.4 Q621 606.2 634.7 604.4" stroke="#0a0a0a" stroke-width="5.2" stroke-linecap="round" fill="none"/></g>
<g filter="url(#b2)"><path d="M417.20 646.40 Q428.55 646.40 439.90 646.40" stroke="#121212" stroke-width="4.80" stroke-linecap="round" fill="none" opacity="0.72"/><path d="M455.80 646.80 Q467.00 646.80 478.20 646.80" stroke="#121212" stroke-width="3.60" stroke-linecap="round" fill="none" opacity="0.28"/><path d="M492.80 646.40 Q504.65 646.40 516.50 646.40" stroke="#121212" stroke-width="5.00" stroke-linecap="round" fill="none" opacity="0.8"/><path d="M531.80 646.80 Q543.15 646.80 554.50 646.80" stroke="#121212" stroke-width="3.60" stroke-linecap="round" fill="none" opacity="0.33"/></g>
<g filter="url(#b1)"><path d="M610.60 646.80 Q620.80 646.80 631.00 646.80" stroke="#121212" stroke-width="8.94" stroke-linecap="round" fill="none" opacity="1"/><path d="M610.60 646.80 h5.72 M631.00 646.80 h-5.72" stroke="#121212" stroke-width="10.40" stroke-linecap="round" fill="none" opacity="1"/><path d="M415.20 683.70 Q428.85 683.70 442.50 683.70" stroke="#121212" stroke-width="7.91" stroke-linecap="round" fill="none" opacity="1"/><path d="M415.20 683.70 h5.06 M442.50 683.70 h-5.06" stroke="#121212" stroke-width="9.20" stroke-linecap="round" fill="none" opacity="1"/><path d="M454.50 683.70 Q467.10 683.70 479.70 683.70" stroke="#121212" stroke-width="7.91" stroke-linecap="round" fill="none" opacity="1"/><path d="M454.50 683.70 h5.06 M479.70 683.70 h-5.06" stroke="#121212" stroke-width="9.20" stroke-linecap="round" fill="none" opacity="1"/><path d="M492.40 683.70 Q505.90 683.70 519.40 683.70" stroke="#121212" stroke-width="7.91" stroke-linecap="round" fill="none" opacity="1"/><path d="M492.40 683.70 h5.06 M519.40 683.70 h-5.06" stroke="#121212" stroke-width="9.20" stroke-linecap="round" fill="none" opacity="1"/><path d="M531.40 683.70 Q544.50 683.70 557.60 683.70" stroke="#121212" stroke-width="7.91" stroke-linecap="round" fill="none" opacity="1"/><path d="M531.40 683.70 h5.06 M557.60 683.70 h-5.06" stroke="#121212" stroke-width="9.20" stroke-linecap="round" fill="none" opacity="1"/><path d="M570.30 683.70 Q582.60 683.70 594.90 683.70" stroke="#121212" stroke-width="7.91" stroke-linecap="round" fill="none" opacity="1"/><path d="M570.30 683.70 h5.06 M594.90 683.70 h-5.06" stroke="#121212" stroke-width="9.20" stroke-linecap="round" fill="none" opacity="1"/><path d="M608.20 683.70 Q621.00 683.70 633.80 683.70" stroke="#121212" stroke-width="7.91" stroke-linecap="round" fill="none" opacity="1"/><path d="M608.20 683.70 h5.06 M633.80 683.70 h-5.06" stroke="#121212" stroke-width="9.20" stroke-linecap="round" fill="none" opacity="1"/></g>
<text x="446.85" y="553.00" font-size="15" font-weight="bold" fill="#060606" stroke="#060606" stroke-width="0.48" text-anchor="middle" textLength="64.30" lengthAdjust="spacingAndGlyphs">Ishikawa</text>
<text x="529.00" y="553.00" font-size="15" font-weight="bold" fill="#060606" stroke="#060606" stroke-width="0.48" text-anchor="middle" textLength="51.20" lengthAdjust="spacingAndGlyphs">RL95-2</text>
<text x="610.20" y="553.30" font-size="15" font-weight="bold" fill="#060606" stroke="#060606" stroke-width="0.48" text-anchor="middle" textLength="56.80" lengthAdjust="spacingAndGlyphs">HEC-1B</text>
<line x1="409.00" y1="562.30" x2="482.60" y2="562.30" stroke="#060606" stroke-width="1.9" stroke-linecap="butt"/>
<line x1="492.00" y1="562.30" x2="565.90" y2="562.30" stroke="#060606" stroke-width="1.9" stroke-linecap="butt"/>
<line x1="572.50" y1="562.30" x2="645.80" y2="562.30" stroke="#060606" stroke-width="1.9" stroke-linecap="butt"/>
<text x="406.80" y="579.70" font-size="13.3" font-weight="bold" fill="#060606" stroke="#060606" stroke-width="0.43" textLength="34.95" lengthAdjust="spacingAndGlyphs">shNC</text>
<text x="446.30" y="579.70" font-size="13.3" font-weight="bold" fill="#060606" stroke="#060606" stroke-width="0.43" textLength="42.80" lengthAdjust="spacingAndGlyphs">shERα</text>
<text x="490.30" y="579.70" font-size="13.3" font-weight="bold" fill="#060606" stroke="#060606" stroke-width="0.43" textLength="34.95" lengthAdjust="spacingAndGlyphs">shNC</text>
<text x="527.50" y="579.70" font-size="13.3" font-weight="bold" fill="#060606" stroke="#060606" stroke-width="0.43" textLength="43.10" lengthAdjust="spacingAndGlyphs">shERα</text>
<text x="576.80" y="579.70" font-size="13.3" font-weight="bold" fill="#060606" stroke="#060606" stroke-width="0.43" textLength="17.00" lengthAdjust="spacingAndGlyphs">EV</text>
<text x="600.80" y="579.70" font-size="13.3" font-weight="bold" fill="#060606" stroke="#060606" stroke-width="0.43" textLength="43.20" lengthAdjust="spacingAndGlyphs">exERα</text>
<text x="343.40" y="613.00" font-size="15.3" font-weight="bold" fill="#060606" stroke="#060606" stroke-width="0.49" textLength="50.90" lengthAdjust="spacingAndGlyphs">PIWIL1</text>
<text x="353.60" y="650.60" font-size="15.3" font-weight="bold" fill="#060606" stroke="#060606" stroke-width="0.49" textLength="31.40" lengthAdjust="spacingAndGlyphs">ERα</text>
<text x="336.70" y="689.50" font-size="15.3" font-weight="bold" fill="#060606" stroke="#060606" stroke-width="0.49" textLength="56.30" lengthAdjust="spacingAndGlyphs">GAPDH</text>
<text x="645.80" y="611.30" font-size="15.2" font-weight="bold" fill="#060606" stroke="#060606" stroke-width="0.49" textLength="38.70" lengthAdjust="spacingAndGlyphs">95KD</text>
<text x="645.80" y="650.00" font-size="15.2" font-weight="bold" fill="#060606" stroke="#060606" stroke-width="0.49" textLength="38.70" lengthAdjust="spacingAndGlyphs">60KD</text>
<text x="645.80" y="689.20" font-size="15.2" font-weight="bold" fill="#060606" stroke="#060606" stroke-width="0.49" textLength="38.70" lengthAdjust="spacingAndGlyphs">37KD</text>
</svg>
</body></html>
